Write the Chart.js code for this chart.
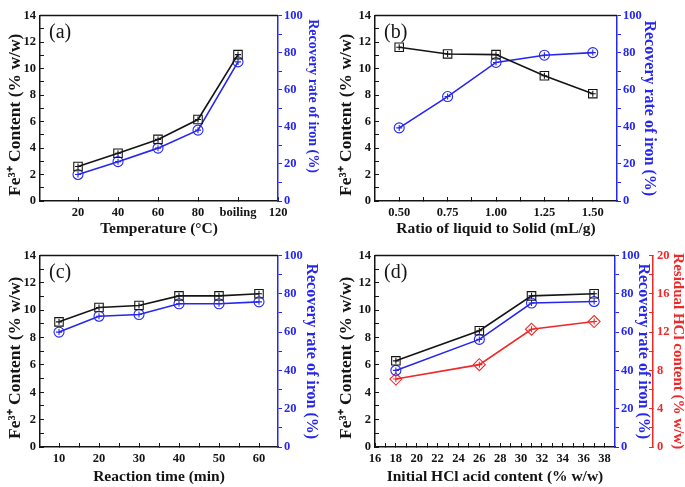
<!DOCTYPE html>
<html>
<head>
<meta charset="utf-8">
<script src="https://cdn.jsdelivr.net/npm/chart.js@4.4.0/dist/chart.umd.min.js"></script>
<style>
  html, body { margin: 0; padding: 0; background: #fff; overflow: hidden; }
  #wrap { position: relative; width: 685px; height: 487px; }
  canvas { position: absolute; }
</style>
</head>
<body>
<div id="wrap">
  <canvas id="chartA" width="342" height="240" style="left:0;top:0"></canvas>
  <canvas id="chartB" width="355" height="240" style="left:330px;top:0"></canvas>
  <canvas id="chartC" width="342" height="247" style="left:0;top:240px"></canvas>
  <canvas id="chartD" width="357" height="247" style="left:330px;top:240px"></canvas>
</div>
<script>
// (a) temperature
const tempX = [20, 40, 60, 80, 100];
const tempTicks = [20, 40, 60, 80, 100, 120];
const tempTickLabels = ['20', '40', '60', '80', 'boiling', '120'];
const tempFe = [2.6, 3.6, 4.65, 6.15, 11.05];
const tempRecovery = [14.3, 21.2, 28.5, 38.2, 75];

// (b) liquid / solid ratio
const ratioX = [0.5, 0.75, 1.0, 1.25, 1.5];
const ratioTicks = [0.5, 0.75, 1.0, 1.25, 1.5];
const ratioFe = [11.6, 11.1, 11.05, 9.45, 8.1];
const ratioRecovery = [39.4, 56.3, 74.7, 78.6, 80];

// (c) reaction time
const timeX = [10, 20, 30, 40, 50, 60];
const timeTicks = [10, 20, 30, 40, 50, 60];
const timeFe = [9.15, 10.2, 10.35, 11.05, 11.05, 11.2];
const timeRecovery = [60, 68.3, 69.2, 74.8, 74.8, 75.8];

// (d) initial HCl
const hclX = [18, 26, 31, 37];
const hclTicks = [16, 18, 20, 22, 24, 26, 28, 30, 32, 34, 36, 38];
const hclFe = [6.3, 8.5, 11.05, 11.2];
const hclRecovery = [40, 56.2, 75.2, 76];
const hclResidual = [7.1, 8.6, 12.3, 13.1];

// y axes
const feTicks = [0, 2, 4, 6, 8, 10, 12, 14];
const recoveryTicks = [0, 20, 40, 60, 80, 100];
const residualTicks = [0, 4, 8, 12, 16, 20];

const serif = "'Liberation Serif', 'Times New Roman', serif";
const black = '#141414';
const blue = '#2626f0';
const red = '#f02828';

const pts = (xs, ys) => xs.map((x, i) => ({x: x, y: ys[i]}));

// majors plus a minor tick half way between each pair
const withMinors = (majors) => {
    let out = [];
    majors.forEach((v, i) => {
        out.push(v);
        if (i < majors.length - 1) out.push((v + majors[i + 1]) / 2);
    });
    return out;
};

const series = (xs, ys, color, style, radius, axis) => [
    {
        data: pts(xs, ys), yAxisID: axis,
        borderColor: color, borderWidth: 1.6, backgroundColor: 'transparent',
        pointStyle: style, pointRadius: radius, pointBorderColor: color,
        pointBorderWidth: 1.1, pointBackgroundColor: 'rgba(255,255,255,0)'
    },
    {
        data: pts(xs, ys), yAxisID: axis, showLine: false,
        pointStyle: 'cross', pointRadius: 3, pointBorderColor: color, pointBorderWidth: 1.1
    }
];

const tickFont = {family: serif, size: 12.5, weight: 'bold'};
const titleFont = (size) => ({family: serif, size: size, weight: 'bold'});

const xAxis = (min, max, majors, minors, label, fmt, height) => ({
    type: 'linear', position: 'bottom', min: min, max: max,
    afterBuildTicks: s => { s.ticks = minors.map(v => ({value: v})); },
    afterFit: s => { s.height = height; },
    border: {color: black, width: 1.5},
    grid: {drawOnChartArea: false, tickLength: -4, color: black},
    ticks: {
        autoSkip: false, maxRotation: 0, padding: 8, color: black, font: tickFont,
        callback: v => {
            const i = majors.findIndex(m => Math.abs(m - v) < 1e-6);
            return i < 0 ? '' : fmt(i, v);
        }
    },
    title: {display: true, text: label, color: black, font: titleFont(15.5), padding: 0}
});

const feAxis = (width) => ({
    type: 'linear', position: 'left', min: 0, max: 14,
    afterBuildTicks: s => { s.ticks = withMinors(feTicks).map(v => ({value: v})); },
    afterFit: s => { s.width = width; },
    border: {color: black, width: 1.5},
    grid: {drawOnChartArea: false, tickLength: -4, color: black},
    ticks: {
        autoSkip: false, padding: 8, color: black, font: tickFont,
        callback: v => feTicks.includes(v) ? v : ''
    },
    // trailing spaces nudge the rotated title a little lower, as in the original
    title: {display: true, text: 'Fe³⁺ Content (% w/w)   ', color: black, font: titleFont(17.5), padding: 0}
});

const recoveryAxis = (width, size, text) => ({
    type: 'linear', position: 'right', min: 0, max: 100,
    afterBuildTicks: s => { s.ticks = withMinors(recoveryTicks).map(v => ({value: v})); },
    afterFit: s => { s.width = width; },
    border: {color: blue, width: 1.5},
    grid: {drawOnChartArea: false, tickLength: 4, color: blue},
    ticks: {
        autoSkip: false, padding: 2, color: blue, font: tickFont,
        callback: v => recoveryTicks.includes(v) ? v : ''
    },
    title: {display: true, text: text || 'Recovery rate of iron (%)', color: blue, font: titleFont(size), padding: 0}
});

const residualAxis = (width) => ({
    type: 'linear', position: 'right', min: 0, max: 20,
    afterBuildTicks: s => { s.ticks = withMinors(residualTicks).map(v => ({value: v})); },
    afterFit: s => { s.width = width; },
    border: {color: red, width: 1.5},
    grid: {drawOnChartArea: false, tickLength: -4, color: red},
    ticks: {
        autoSkip: false, padding: 8, color: red, font: tickFont,
        callback: v => residualTicks.includes(v) ? v : ''
    },
    title: {display: true, text: 'Residual HCl content (% w/w)', color: red, font: titleFont(15), padding: 0}
});

// top frame line and the panel letter
const framePlugin = {
    id: 'frame',
    afterDraw(chart, args, opts) {
        const ctx = chart.ctx;
        const a = chart.chartArea;
        ctx.save();
        ctx.strokeStyle = black;
        ctx.lineWidth = 1.5;
        ctx.beginPath();
        ctx.moveTo(a.left, a.top);
        ctx.lineTo(a.right, a.top);
        ctx.stroke();
        ctx.fillStyle = black;
        ctx.font = '20px ' + serif;
        ctx.textBaseline = 'middle';
        ctx.fillText(opts.label, a.left + 9, a.top + 17);
        ctx.restore();
    }
};

const baseOptions = (label, padding, scales) => ({
    responsive: false,
    maintainAspectRatio: false,
    animation: false,
    layout: {padding: padding},
    plugins: {legend: {display: false}, tooltip: {enabled: false}, frame: {label: label}},
    scales: scales
});

new Chart(document.getElementById('chartA'), {
    type: 'line',
    data: {datasets: [
        ...series(tempX, tempFe, black, 'rect', 6, 'y'),
        ...series(tempX, tempRecovery, blue, 'circle', 5, 'y2')
    ]},
    options: baseOptions('(a)', {left: 5, right: 21, top: 7, bottom: 2}, {
        x: xAxis(1, 120, tempTicks, tempTicks, 'Temperature (°C)', i => tempTickLabels[i], 37),
        y: feAxis(35),
        y2: recoveryAxis(43, 14, 'Recovery rate of iron (%)       ')
    }),
    plugins: [framePlugin]
});

new Chart(document.getElementById('chartB'), {
    type: 'line',
    data: {datasets: [
        ...series(ratioX, ratioFe, black, 'rect', 6, 'y'),
        ...series(ratioX, ratioRecovery, blue, 'circle', 5, 'y2')
    ]},
    options: baseOptions('(b)', {left: 6, right: 26, top: 7, bottom: 2}, {
        x: xAxis(0.375, 1.625, ratioTicks, withMinors(ratioTicks), 'Ratio of liquid to Solid (mL/g)', (i, v) => v.toFixed(2), 37),
        y: feAxis(39),
        y2: recoveryAxis(42, 16)
    }),
    plugins: [framePlugin]
});

new Chart(document.getElementById('chartC'), {
    type: 'line',
    data: {datasets: [
        ...series(timeX, timeFe, black, 'rect', 6, 'y'),
        ...series(timeX, timeRecovery, blue, 'circle', 5, 'y2')
    ]},
    options: baseOptions('(c)', {left: 5, right: 21, top: 13, bottom: 1}, {
        x: xAxis(5.25, 64.75, timeTicks, withMinors(timeTicks), 'Reaction time (min)', (i, v) => v, 39),
        y: feAxis(35),
        y2: recoveryAxis(43, 16)
    }),
    plugins: [framePlugin]
});

new Chart(document.getElementById('chartD'), {
    type: 'line',
    data: {datasets: [
        ...series(hclX, hclFe, black, 'rect', 6, 'y'),
        ...series(hclX, hclRecovery, blue, 'circle', 5, 'y2'),
        ...series(hclX, hclResidual, red, 'rectRot', 6, 'y3')
    ]},
    options: baseOptions('(d)', {left: 6, right: 0, top: 13, bottom: 1}, {
        x: xAxis(16, 39, hclTicks, withMinors(hclTicks), 'Initial HCl acid content (% w/w)', (i, v) => v, 39),
        y: feAxis(39),
        y2: recoveryAxis(38, 16),
        y3: residualAxis(34)
    }),
    plugins: [framePlugin]
});
</script>
</body>
</html>
